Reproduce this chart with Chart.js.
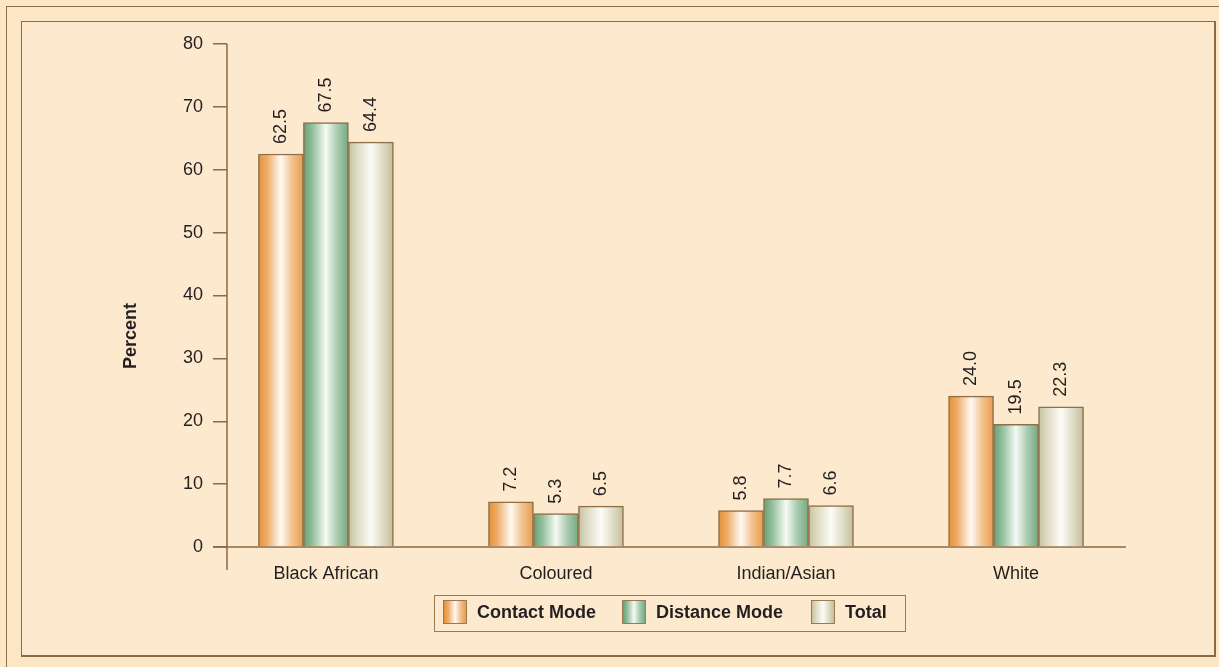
<!DOCTYPE html>
<html>
<head>
<meta charset="utf-8">
<script src="https://cdn.jsdelivr.net/npm/chart.js@4/dist/chart.umd.min.js"></script>
<style>
  html, body { margin: 0; padding: 0; }
  body { width: 1219px; height: 667px; background: #fce6c6; position: relative; overflow: hidden;
         font-family: "Liberation Sans", Arial, sans-serif; }
  #outer { position: absolute; left: 6px; top: 6px; width: 1230px; height: 680px; border: 1px solid #8f6d47; }
  #panel { position: absolute; left: 21px; top: 21px; width: 1192px; height: 633px; background: #fde9cd;
           border: 2px solid #8c6a43; box-sizing: content-box; border-width: 1px 2px 2px 1px; }
  #wrap { position: absolute; left: 0; top: 0; width: 1219px; height: 667px; }
  #legend { position: absolute; left: 434px; top: 595px; width: 470px; height: 35px;
            border: 1px solid #9b7a52; box-sizing: content-box;
            font-weight: bold; font-size: 18px; color: #231f20; }
  #legend .item { display: flex; align-items: center; position: absolute; top: 4px; line-height: 24px; }
  #legend .sw { width: 22px; height: 22px; border: 1px solid #9b7a52; margin-right: 10px; }
</style>
</head>
<body>
<div id="outer"></div>
<div id="panel"></div>
<div id="wrap"><canvas id="c" width="1219" height="667"></canvas></div>
<div id="legend"></div>
<script>
// Population groups and the share (%) of students in each, by mode of study
const categories = ["Black African", "Coloured", "Indian/Asian", "White"];
const contactMode = [62.5, 7.2, 5.8, 24.0];
const distanceMode = [67.5, 5.3, 7.7, 19.5];
const total = [64.4, 6.5, 6.6, 22.3];
const seriesNames = ["Contact Mode", "Distance Mode", "Total"];
const yTicks = [0, 10, 20, 30, 40, 50, 60, 70, 80];

const FONT = "'Liberation Sans', Arial, sans-serif";
const INK = "#231f20";
const AXIS = "#8c6a43";
const EDGE = "#8f6e48";
const BAR_W = 45;

// Horizontal "cylinder" shading for each series
const shades = [
  [[0, "#e78f35"], [0.2, "#eeae6c"], [0.5, "#fffaf3"], [0.75, "#f2c28e"], [1, "#e89c4c"]],
  [[0, "#65a274"], [0.2, "#93bf9c"], [0.5, "#f6faf4"], [0.75, "#a9cbb0"], [1, "#74a980"]],
  [[0, "#c6c39f"], [0.2, "#dedcc5"], [0.5, "#fcfcf7"], [0.75, "#e0dec9"], [1, "#c2bf9a"]]
];
const flat = ["#eba460", "#8dba97", "#dcdac2"];

function barFill(ctx) {
  const chart = ctx.chart;
  const xs = chart.scales && chart.scales.x;
  const ds = ctx.datasetIndex;
  if (!xs || ctx.type !== "data") return flat[ds];
  const centre = xs.getPixelForValue(ctx.dataIndex) + (ds - 1) * BAR_W;
  if (!isFinite(centre)) return flat[ds];
  const g = chart.ctx.createLinearGradient(centre - BAR_W / 2, 0, centre + BAR_W / 2, 0);
  shades[ds].forEach(([o, c]) => g.addColorStop(o, c));
  return g;
}

const toPoints = arr => arr.map((v, i) => ({ x: i, y: v }));

// Axis lines, rotated value labels and the y-axis title
const decorations = {
  id: "decorations",
  beforeDatasetsDraw(chart) {
    const { ctx, scales: { x, y } } = chart;
    const y0 = y.getPixelForValue(0);
    ctx.save();
    ctx.strokeStyle = AXIS;
    ctx.lineWidth = 1.5;
    ctx.beginPath();
    ctx.moveTo(x.left, y.getPixelForValue(80));
    ctx.lineTo(x.left, y0 + 23);
    ctx.moveTo(x.left - 14, y0);
    ctx.lineTo(x.right, y0);
    ctx.stroke();
    ctx.restore();
  },
  afterDatasetsDraw(chart) {
    const { ctx } = chart;
    ctx.save();
    ctx.fillStyle = INK;
    ctx.font = "18px " + FONT;
    ctx.textAlign = "left";
    ctx.textBaseline = "middle";
    chart.data.datasets.forEach((ds, di) => {
      chart.getDatasetMeta(di).data.forEach((bar, i) => {
        ctx.save();
        ctx.translate(bar.x, bar.y - 10);
        ctx.rotate(-Math.PI / 2);
        ctx.fillText(ds.data[i].y.toFixed(1), 0, 0);
        ctx.restore();
      });
    });
    ctx.font = "bold 18px " + FONT;
    ctx.textAlign = "center";
    ctx.translate(131, 336);
    ctx.rotate(-Math.PI / 2);
    ctx.fillText("Percent", 0, 0);
    ctx.restore();
  }
};

new Chart(document.getElementById("c"), {
  type: "bar",
  data: {
    datasets: [contactMode, distanceMode, total].map((vals, i) => ({
      label: seriesNames[i],
      data: toPoints(vals),
      backgroundColor: barFill,
      borderColor: EDGE,
      borderWidth: 1.5,
      barThickness: BAR_W,
      grouped: true
    }))
  },
  plugins: [decorations],
  options: {
    responsive: false,
    animation: false,
    layout: { padding: { left: 0, top: 44, right: 93, bottom: 0 } },
    plugins: { legend: { display: false }, tooltip: { enabled: false } },
    scales: {
      x: {
        type: "linear",
        offset: false,
        bounds: "data",
        min: -0.43,
        max: 3.478,
        afterFit: s => { s.height = 120; },
        afterBuildTicks: s => { s.ticks = categories.map((_, i) => ({ value: i })); },
        grid: { display: false, offset: false },
        border: { display: false },
        ticks: {
          autoSkip: false, maxRotation: 0, padding: 8,
          color: INK, font: { family: FONT, size: 18 },
          callback: v => categories[v]
        }
      },
      y: {
        min: 0,
        max: 80,
        afterFit: s => { s.width = 227; },
        afterBuildTicks: s => { s.ticks = yTicks.map(v => ({ value: v })); },
        grid: { display: true, drawOnChartArea: false, drawTicks: true, tickLength: 14, color: AXIS, lineWidth: 1.5 },
        border: { display: false },
        ticks: { padding: 10, color: INK, font: { family: FONT, size: 18 } }
      }
    }
  }
});

// Legend built from the same series names and shading
const legend = document.getElementById("legend");
const lefts = [8, 187, 376];
seriesNames.forEach((name, i) => {
  const item = document.createElement("div");
  item.className = "item";
  item.style.left = lefts[i] + "px";
  const sw = document.createElement("span");
  sw.className = "sw";
  sw.style.background = "linear-gradient(to right, " +
    shades[i].map(([o, c]) => c + " " + (o * 100) + "%").join(", ") + ")";
  const t = document.createElement("span");
  t.textContent = name;
  item.appendChild(sw);
  item.appendChild(t);
  legend.appendChild(item);
});
</script>
</body>
</html>
